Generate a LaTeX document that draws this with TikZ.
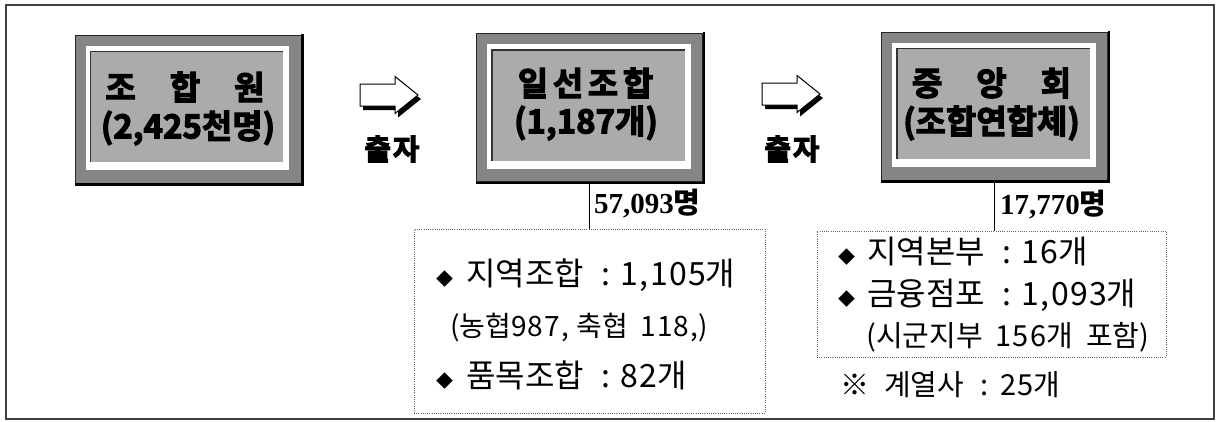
\documentclass[tikz,border=0pt]{standalone}
\usepackage{fontspec}
\newfontfamily\kr{Noto Sans CJK KR}
\newfontfamily\krheavy[FakeBold=3.5]{Noto Sans CJK KR Bold}
\newfontfamily\numserif{Liberation Serif}
\usetikzlibrary{calc}
\newcommand\gp[1]{\hspace{#1pt}}
\newcommand\dg[1]{{\addfontfeature{LetterSpace=4}#1}}
\newcommand\dia{{\fontsize{17}{17}\selectfont ◆}}
\newcommand\mytitlebox[2]{%
  \node[outerbox] (#1) at (#2) {};
  \draw[black, line width=2.6pt] ([xshift=1pt,yshift=1pt]#1.north east) -- ([xshift=1pt,yshift=-1pt]#1.south east) -- ([yshift=-1pt]#1.south west);
  \fill[white] ([xshift=11pt,yshift=-11pt]#1.north west) rectangle ([xshift=-12pt,yshift=13pt]#1.south east);
  \fill[innerfill] ([xshift=16pt,yshift=-17pt]#1.north west) rectangle ([xshift=-18pt,yshift=21pt]#1.south east);
  \draw[black!80, line width=1.3pt] ([xshift=16pt,yshift=21pt]#1.south west) -- ([xshift=16pt,yshift=-17pt]#1.north west) -- ([xshift=-18pt,yshift=-17pt]#1.north east);
}
\begin{document}
\begin{tikzpicture}[x=1pt,y=-1pt,
  outerbox/.style={draw=black!85, line width=0.8pt, fill=black!48, minimum width=226pt, minimum height=148pt, inner sep=0pt},
  innerfill/.style={fill=black!33},
  frame/.style={draw=black!75, line width=1.4pt},
  dotbox/.style={draw=black!60, line width=0.6pt, dash pattern=on 0.8pt off 1.4pt, inner sep=0pt},
  conn/.style={draw=black, line width=1pt},
  titletxt/.style={inner sep=0pt, font=\krheavy\fontsize{33}{33}\selectfont},
  numtxt/.style={inner sep=0pt, anchor=west, font=\numserif\bfseries\fontsize{29}{29}\selectfont},
  listtxt/.style={inner sep=0pt, anchor=west, font=\kr\fontsize{32}{32}\selectfont},
  smalllist/.style={listtxt, font=\kr\fontsize{29}{29}\selectfont},
  investtxt/.style={inner sep=0pt, font=\krheavy\fontsize{29}{29}\selectfont\addfontfeature{LetterSpace=6}},
  blockarrow/.pic={
    \fill[black] (3,4) -- (38,4) -- (38,-13) -- (61,4) -- (38,22.5) -- (38,15) -- (3,15) -- cycle;
    \filldraw[fill=white, draw=black, line width=1pt] (0,-11) -- (35,-11) -- (35,-18.5) -- (58,0) -- (35,18.5) -- (35,11) -- (0,11) -- cycle;
  }
]
\useasboundingbox (0,0) rectangle (1218,421);
\draw[frame] (6,5) rectangle (1214,419);

% title boxes
\mytitlebox{b1}{188,109}
\mytitlebox{b2}{589.5,107.5}
\mytitlebox{b3}{994.5,106}

\node[titletxt] (t1a) at (185,87) {조\gp{34}합\gp{34}원};
\node[titletxt] (t1b) at (188,128) {(2,425천명)};
\node[titletxt, font=\krheavy\fontsize{33}{33}\selectfont\addfontfeature{LetterSpace=14}] (t2a) at (585.5,83) {일선조합};
\node[titletxt] (t2b) at (586,123) {(1,187개)};
\node[titletxt] (t3a) at (991.5,83) {중\gp{34}앙\gp{34}회};
\node[titletxt] (t3b) at (991.5,123) {(조합연합체)};

% arrows
\pic (a1) at (360,95) {blockarrow};
\pic (a2) at (762,94) {blockarrow};
\node[investtxt] (s1) at (392,149) {출자};
\node[investtxt] (s2) at (792,149) {출자};

% dotted boxes
\node[dotbox, minimum width=351pt, minimum height=184pt] (d1) at (589.5,321) {};
\node[dotbox, minimum width=349pt, minimum height=126pt] (d2) at (991.5,294) {};

% connectors
\draw[conn] (b2.south) -- (b2.south |- d1.north);
\draw[conn] (b3.south) -- (b3.south |- d2.north);

\node[numtxt] (n1) at (594,204) {57,093{\kr\bfseries 명}};
\node[numtxt] (n2) at (1000,205) {17,770{\kr\bfseries 명}};

% lists
\node[listtxt] (l1a) at (436,275) {\dia\gp{13}지역조합\gp{18}:\gp{10}\dg{1,105}개};
\node[smalllist, font=\kr\fontsize{28}{28}\selectfont] (l1b) at (450,328) {(농협\dg{987,}\gp{8}축협\gp{12}\dg{118,})};
\node[listtxt] (l1c) at (436,375) {\dia\gp{13}품목조합\gp{18}:\gp{10}\dg{82}개};

\node[listtxt] (l2a) at (838,252) {\dia\gp{12}지역본부\gp{18}:\gp{10}\dg{16}개};
\node[listtxt] (l2b) at (838,295) {\dia\gp{12}금융점포\gp{18}:\gp{10}\dg{1,093}개};
\node[smalllist] (l2c) at (866,337) {(시군지부\gp{13}\dg{156}개\gp{13}포함)};
\node[smalllist] (l2d) at (840,385) {※\gp{15}계열사\gp{16}:\gp{12}\dg{25}개};
\end{tikzpicture}
\end{document}
